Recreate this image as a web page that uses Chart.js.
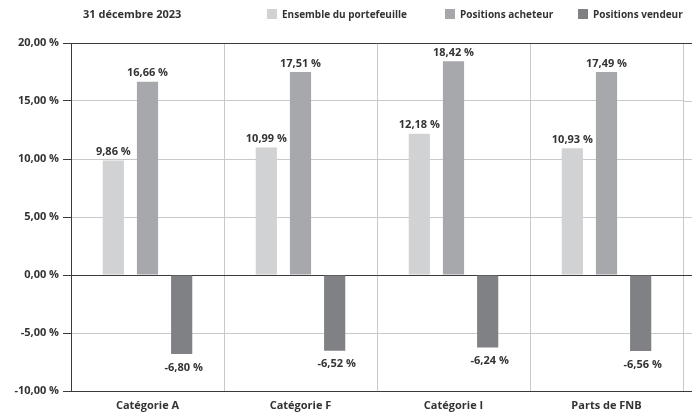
<!DOCTYPE html>
<html lang="fr">
<head>
<meta charset="UTF-8">
<title>31 décembre 2023</title>
<style>
  body { margin: 0; background: #fff; }
  .wrap { position: relative; width: 692px; height: 418px; }
</style>
</head>
<body>
<div class="wrap"><canvas id="chart" width="692" height="418"></canvas></div>
<script src="https://cdn.jsdelivr.net/npm/chart.js"></script>
<script>
  // Data
  const categories = ['Catégorie A', 'Catégorie F', 'Catégorie I', 'Parts de FNB'];
  const ensemble = [9.86, 10.99, 12.18, 10.93];
  const acheteur = [16.66, 17.51, 18.42, 17.49];
  const vendeur = [-6.80, -6.52, -6.24, -6.56];
  const seriesNames = ['Ensemble du portefeuille', 'Positions acheteur', 'Positions vendeur'];
  const chartTitle = '31 décembre 2023';

  const FONT = '"Open Sans", sans-serif';
  const dark = '#3a3a3c';
  const light = '#c9c9cb';

  const fmt = (v) => v.toFixed(2).replace('.', ',') + ' %';
  const isDark = (v) => [20, 0, -10].includes(v);

  // Title + legend at the top, left aligned
  const legendX = [267, 445, 578];
  const topLegend = {
    id: 'topLegend',
    afterDraw(chart) {
      const ctx = chart.ctx;
      ctx.save();
      ctx.fillStyle = '#333';
      ctx.textBaseline = 'middle';
      ctx.textAlign = 'left';
      ctx.font = 'bold 11px ' + FONT;
      ctx.fillText(chartTitle, 83, 15);
      ctx.font = 'bold 10px ' + FONT;
      chart.data.datasets.forEach((ds, i) => {
        const x = legendX[i];
        ctx.fillStyle = ds.backgroundColor;
        ctx.fillRect(x, 9, 10, 10);
        ctx.fillStyle = '#333';
        ctx.fillText(ds.label, x + 15, 15);
      });
      ctx.restore();
    }
  };

  // horizontal grid lines run on past the last category to the page edge
  const gridTail = {
    id: 'gridTail',
    beforeDatasetsDraw(chart) {
      const { ctx, chartArea, scales } = chart;
      ctx.save();
      ctx.lineWidth = 1;
      scales.y.ticks.forEach(t => {
        const y = Math.round(scales.y.getPixelForValue(t.value)) + 0.5;
        ctx.strokeStyle = isDark(t.value) ? dark : light;
        ctx.beginPath();
        ctx.moveTo(chartArea.right, y);
        ctx.lineTo(chart.width, y);
        ctx.stroke();
      });
      ctx.restore();
    }
  };

  // Value labels above positive bars and below negative ones
  const valueLabels = {
    id: 'valueLabels',
    afterDatasetsDraw(chart) {
      const ctx = chart.ctx;
      ctx.save();
      ctx.font = 'bold 11px ' + FONT;
      ctx.fillStyle = '#333';
      ctx.textAlign = 'center';
      chart.data.datasets.forEach((ds, i) => {
        chart.getDatasetMeta(i).data.forEach((bar, j) => {
          const v = ds.data[j];
          if (v >= 0) {
            ctx.textBaseline = 'bottom';
            ctx.fillText(fmt(v), bar.x, bar.y - 3);
          } else {
            ctx.textBaseline = 'top';
            ctx.fillText(fmt(v), bar.x + 2, bar.y + 8);
          }
        });
      });
      ctx.restore();
    }
  };

  new Chart(document.getElementById('chart'), {
    type: 'bar',
    data: {
      labels: categories,
      datasets: [
        { label: seriesNames[0], data: ensemble, backgroundColor: '#d1d2d4' },
        { label: seriesNames[1], data: acheteur, backgroundColor: '#a7a8ab' },
        { label: seriesNames[2], data: vendeur, backgroundColor: '#808184' }
      ]
    },
    options: {
      responsive: false,
      animation: false,
      layout: { padding: { top: 43, right: 9, left: 0, bottom: 0 } },
      datasets: { bar: { categoryPercentage: 0.67, barPercentage: 0.62 } },
      plugins: { legend: { display: false }, tooltip: { enabled: false } },
      scales: {
        x: {
          afterFit: (s) => { s.height = 27; },
          grid: {
            offset: true,
            drawTicks: false,
            color: (c) => (c.index === categories.length ? 'rgba(0,0,0,0)' : light)
          },
          border: { color: dark, width: 1 },
          ticks: { color: '#333', font: { family: FONT, size: 11, weight: 'bold' }, padding: 8 }
        },
        y: {
          min: -10,
          max: 20,
          afterFit: (s) => { s.width = 71; },
          ticks: {
            stepSize: 5,
            color: '#333',
            font: { family: FONT, size: 11, weight: 'bold' },
            padding: 4,
            callback: (v) => fmt(v)
          },
          grid: {
            tickLength: 8,
            tickColor: dark,
            color: (c) => (isDark(c.tick.value) ? dark : light)
          },
          border: { color: dark, width: 1 }
        }
      }
    },
    plugins: [gridTail, topLegend, valueLabels]
  });
</script>
</body>
</html>
